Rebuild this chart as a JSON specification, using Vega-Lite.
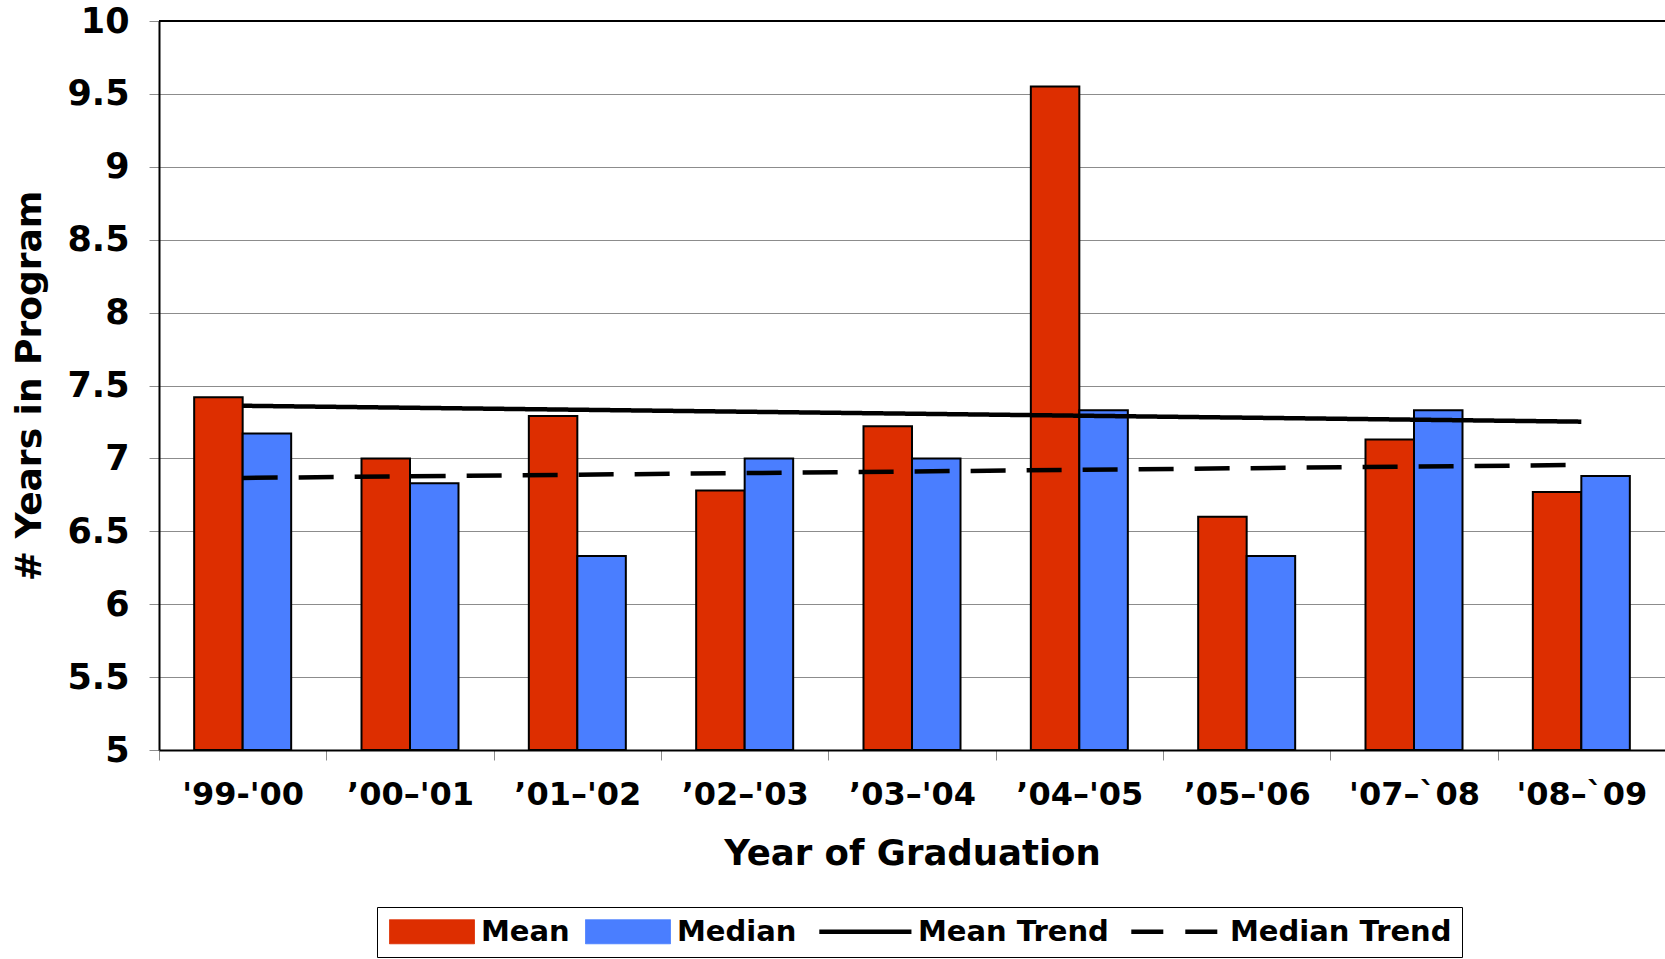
{
  "$schema": "https://vega.github.io/schema/vega-lite/v6.json",
  "width": 1506,
  "height": 729,
  "autosize": {"type": "none"},
  "padding": {"left": 159, "top": 21, "right": 0, "bottom": 209},
  "background": "white",
  "config": {"view": {"stroke": null}, "font": "DejaVu Sans"},
  "datasets": {
    "bars": [
      {"year": "'99-'00", "series": "Mean", "value": 7.42},
      {"year": "'99-'00", "series": "Median", "value": 7.17},
      {"year": "’00–'01", "series": "Mean", "value": 7.0},
      {"year": "’00–'01", "series": "Median", "value": 6.83},
      {"year": "’01–'02", "series": "Mean", "value": 7.29},
      {"year": "’01–'02", "series": "Median", "value": 6.33},
      {"year": "’02–'03", "series": "Mean", "value": 6.78},
      {"year": "’02–'03", "series": "Median", "value": 7.0},
      {"year": "’03–'04", "series": "Mean", "value": 7.22},
      {"year": "’03–'04", "series": "Median", "value": 7.0},
      {"year": "’04–'05", "series": "Mean", "value": 9.55},
      {"year": "’04–'05", "series": "Median", "value": 7.33},
      {"year": "’05–'06", "series": "Mean", "value": 6.6},
      {"year": "’05–'06", "series": "Median", "value": 6.33},
      {"year": "'07–`08", "series": "Mean", "value": 7.13},
      {"year": "'07–`08", "series": "Median", "value": 7.33},
      {"year": "'08–`09", "series": "Mean", "value": 6.77},
      {"year": "'08–`09", "series": "Median", "value": 6.88}
    ],
    "trend": [
      {"year": "'99-'00", "series": "Mean Trend", "value": 7.361},
      {"year": "'08–`09", "series": "Mean Trend", "value": 7.252},
      {"year": "'99-'00", "series": "Median Trend", "value": 6.866},
      {"year": "'08–`09", "series": "Median Trend", "value": 6.955}
    ]
  },
  "layer": [
    {
      "data": {"name": "bars"},
      "mark": {"type": "bar", "stroke": "black"},
      "encoding": {
        "x": {
          "field": "year", "type": "nominal",
          "scale": {"domain": ["'99-'00", "’00–'01", "’01–'02", "’02–'03", "’03–'04", "’04–'05", "’05–'06", "'07–`08", "'08–`09"], "paddingInner": 0, "paddingOuter": 0},
          "axis": {
            "title": "Year of Graduation", "labelAngle": 0, "labelFontSize": 32, "labelFontWeight": "bold", "labelColor": "black",
            "labelPadding": 19, "tickBand": "extent", "tickColor": "#8c8c8c", "tickSize": 10, "tickWidth": 1,
            "domainColor": "black", "domainWidth": 2, "titleFontSize": 35.5, "titleFontWeight": "bold", "titleColor": "black", "titlePadding": 26
          }
        },
        "xOffset": {"field": "series", "type": "nominal", "scale": {"domain": ["Mean", "Median"], "paddingInner": 0, "paddingOuter": 0.725}},
        "y": {
          "field": "value", "type": "quantitative",
          "scale": {"domain": [5, 10], "zero": false, "nice": false},
          "axis": {
            "title": "# Years in Program", "values": [5, 5.5, 6, 6.5, 7, 7.5, 8, 8.5, 9, 9.5, 10], "format": "~g",
            "labelFontSize": 35, "labelFontWeight": "bold", "labelColor": "black", "labelPadding": 20,
            "tickColor": "#8c8c8c", "tickSize": 10, "domainColor": "black", "domainWidth": 2,
            "gridColor": "#8c8c8c", "gridWidth": 1, "grid": true,
            "titleFontSize": 36, "titleFontWeight": "bold", "titleColor": "black", "titlePadding": 18
          }
        },
        "y2": {"datum": 5},
        "strokeWidth": {"value": 2},
        "color": {
          "field": "series", "type": "nominal",
          "scale": {"domain": ["Mean", "Median", "Mean Trend", "Median Trend"], "range": ["#DD2E00", "#4A7EFF", "black", "black"]},
          "legend": {
            "title": null, "orient": "none", "legendX": 218, "legendY": 886, "direction": "horizontal", "columns": 4,
            "labelFontSize": 29, "labelFontWeight": "bold", "labelColor": "black", "labelOffset": 65, "labelLimit": 500,
            "symbolSize": 576, "columnPadding": 13, "padding": 10, "strokeColor": "black", "fillColor": "white",
            "symbolType": {"expr": "datum.value === 'Mean' || datum.value === 'Median' ? 'M-1,-1H6.08V1H-1Z' : 'M-1.6,0H6.08'"},
            "symbolStrokeColor": {"expr": "datum.value === 'Mean' || datum.value === 'Median' ? '#888888' : 'black'"},
            "symbolStrokeWidth": {"expr": "datum.value === 'Mean' || datum.value === 'Median' ? 1 : 4.5"},
            "symbolDash": {"expr": "datum.value === 'Median Trend' ? [32, 22] : [1, 0]"},
            "symbolOpacity": 1
          }
        }
      }
    },
    {
      "data": {"name": "trend"},
      "mark": {"type": "line", "strokeWidth": 4.5},
      "encoding": {
        "x": {"field": "year", "type": "nominal"},
        "y": {"field": "value", "type": "quantitative"},
        "color": {"field": "series", "type": "nominal", "legend": null},
        "strokeDash": {"field": "series", "type": "nominal", "scale": {"domain": ["Mean Trend", "Median Trend"], "range": [[1, 0], [35, 21]]}, "legend": null}
      }
    },
    {
      "data": {"values": [{}]},
      "mark": {"type": "rule", "color": "black", "strokeWidth": 2},
      "encoding": {"y": {"datum": 10}}
    }
  ]
}
